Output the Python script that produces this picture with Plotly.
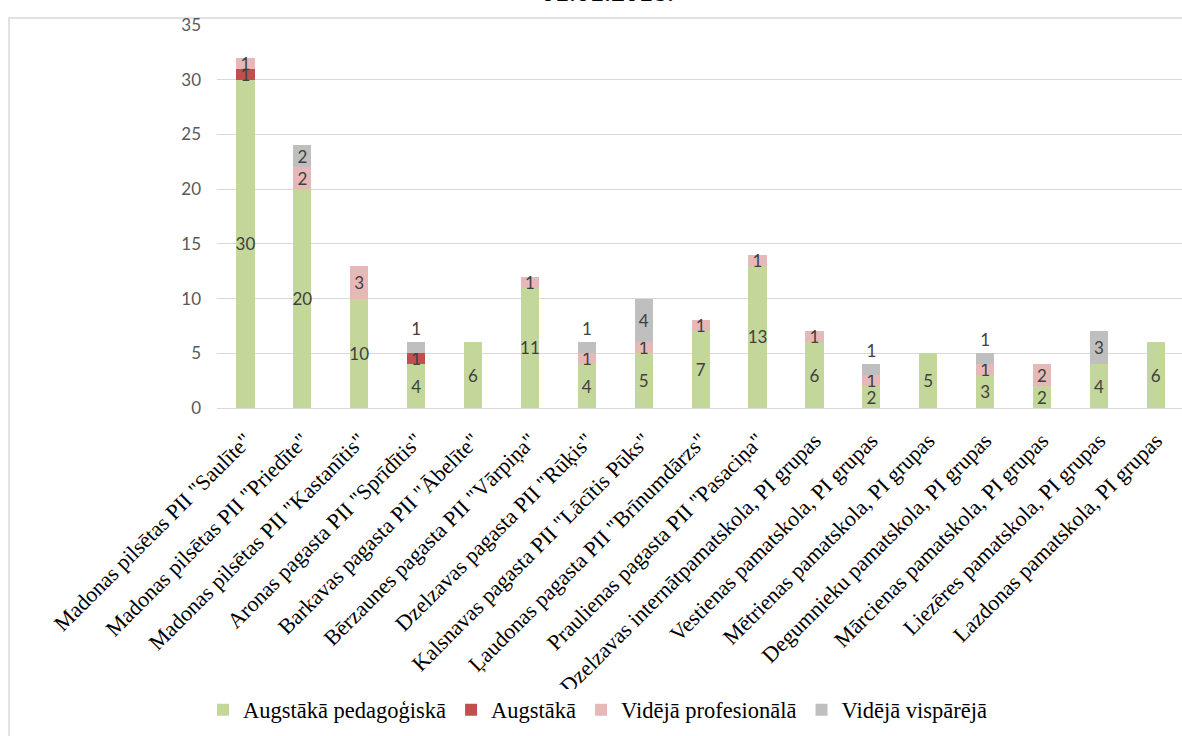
import plotly.graph_objects as go

categories = [
    'Madonas pilsētas PII "Saulīte"',
    'Madonas pilsētas PII "Priedīte"',
    'Madonas pilsētas PII "Kastanītis"',
    'Aronas pagasta PII "Sprīdītis"',
    'Barkavas pagasta PII "Ābelīte"',
    'Bērzaunes pagasta PII "Vārpiņa"',
    'Dzelzavas pagasta PII "Rūķis"',
    'Kalsnavas pagasta PII "Lācītis Pūks"',
    'Ļaudonas pagasta PII "Brīnumdārzs"',
    'Praulienas pagasta PII "Pasaciņa"',
    'Dzelzavas internātpamatskola, PI grupas',
    'Vestienas pamatskola, PI grupas',
    'Mētrienas pamatskola, PI grupas',
    'Degumnieku pamatskola, PI grupas',
    'Mārcienas pamatskola, PI grupas',
    'Liezēres pamatskola, PI grupas',
    'Lazdonas pamatskola, PI grupas',
]
augstaka_ped = [30, 20, 10, 4, 6, 11, 4, 5, 7, 13, 6, 2, 5, 3, 2, 4, 6]
augstaka = [1, 0, 0, 1, 0, 0, 0, 0, 0, 0, 0, 0, 0, 0, 0, 0, 0]
videja_prof = [1, 2, 3, 0, 0, 1, 1, 1, 1, 1, 1, 1, 0, 1, 2, 0, 0]
videja_visp = [0, 2, 0, 1, 0, 0, 1, 4, 0, 0, 0, 1, 0, 1, 0, 3, 0]
series_names = ["Augstākā pedagoģiskā", "Augstākā", "Vidējā profesionālā", "Vidējā vispārējā"]
colors = ["#C4D79B", "#C0504D", "#E6B9B8", "#BFBFBF"]
y_ticks = [0, 5, 10, 15, 20, 25, 30, 35]

W, H = 1182, 736
# plot area in page pixels
PL, PR, PT, PB = 217, 1182, 25, 408
L, R, T, B = PL, W - PR, PT, H - PB
pw, ph = W - L - R, H - T - B
step = 56.9
x_hi = pw / step - 0.5

def px(x):
    return (x - L) / pw

def py(y):
    return (H - B - y) / ph

serif = "Liberation Serif"
fig = go.Figure()
all_series = [augstaka_ped, augstaka, videja_prof, videja_visp]
for i, (name, vals, col) in enumerate(zip(series_names, all_series, colors)):
    texts = [str(v) if v else "" for v in vals]
    if i == 3:
        pos = ["outside" if v == 1 else "inside" for v in vals]
    else:
        pos = "inside"
    fig.add_trace(go.Bar(
        name=name, x=categories, y=vals, marker=dict(color=col, line=dict(width=0)),
        text=texts, textposition=pos, insidetextanchor="middle", textangle=0,
        constraintext="none", cliponaxis=False,
        textfont=dict(family="Lato", size=17, color="#404040"),
        hoverinfo="skip",
    ))

fig.update_layout(
    width=W, height=H, barmode="stack", bargap=0.68,
    margin=dict(l=L, r=R, t=T, b=B, autoexpand=False),
    paper_bgcolor="white", plot_bgcolor="white",
    showlegend=True,
    legend=dict(orientation="h", x=px(203), xanchor="left", y=py(710), yanchor="middle",
                font=dict(family=serif, size=22.5, color="#000000"),
                traceorder="normal", itemwidth=30, itemsizing="constant", tracegroupgap=0),
    yaxis=dict(range=[0, 35], tickvals=y_ticks, showgrid=True, gridcolor="#D9D9D9", gridwidth=1,
               zeroline=False, showline=False, ticks="", automargin=False, ticklabelstandoff=15,
               tickfont=dict(family="Lato", size=17, color="#595959")),
    xaxis=dict(tickangle=-45, showline=True, linecolor="#D9D9D9", linewidth=1, ticks="", automargin=False,
               range=[-0.5, x_hi], ticklabelstandoff=10,
               tickfont=dict(family=serif, size=22, color="#000000")),
    shapes=[dict(type="rect", xref="paper", yref="paper", x0=px(9), x1=px(1200), y0=py(760), y1=py(18),
                 line=dict(color="#D9D9D9", width=1.5), fillcolor="rgba(0,0,0,0)", layer="below")],
    annotations=[dict(text="<b>01.01.2018.</b>", xref="paper", yref="paper", x=px(607), y=py(9),
                      xanchor="center", yanchor="bottom", showarrow=False,
                      font=dict(family=serif, size=28, color="#000000"))],
)

fig.write_html(
    "out.html",
    config={"displayModeBar": False},
    post_script="document.body.style.margin='0';document.body.style.overflow='hidden';"
                "document.documentElement.style.overflow='hidden';",
)
